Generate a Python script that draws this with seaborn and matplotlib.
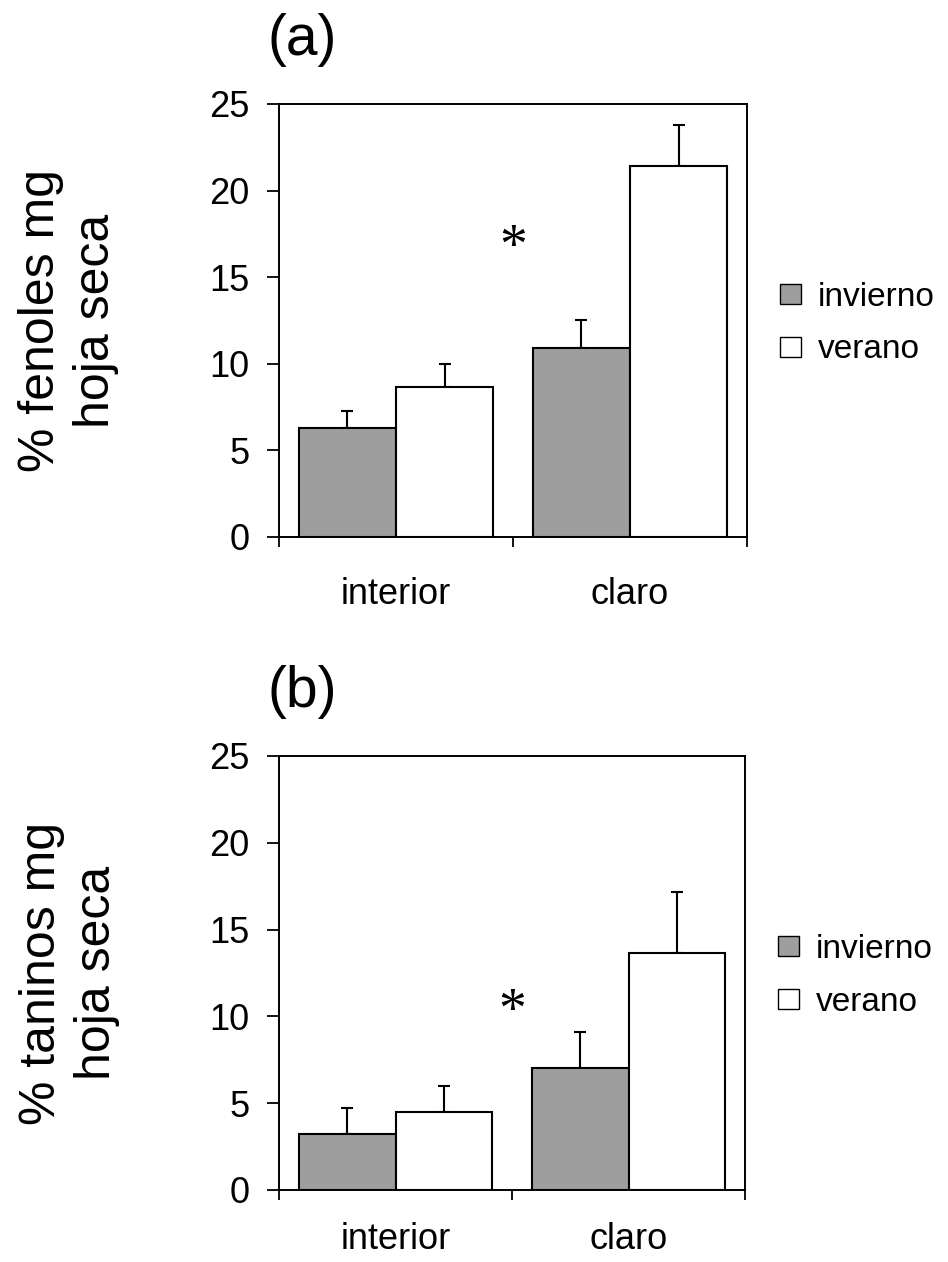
import matplotlib
matplotlib.use("Agg")
import matplotlib.pyplot as plt
from matplotlib.patches import Patch
import numpy as np
import pandas as pd
import seaborn as sns

# ---------------- data ----------------
sites = ["interior", "claro"]
seasons = ["invierno", "verano"]

fenoles_invierno = [6.3, 10.9]
fenoles_verano = [8.65, 21.4]
fenoles_err_invierno = [1.0, 1.6]
fenoles_err_verano = [1.35, 2.4]

taninos_invierno = [3.2, 7.0]
taninos_verano = [4.5, 13.65]
taninos_err_invierno = [1.5, 2.1]
taninos_err_verano = [1.5, 3.5]

panel_titles = ["(a)", "(b)"]
ylabels = ["% fenoles mg\nhoja seca", "% taninos mg\nhoja seca"]
star_y = [17.5, 11.1]
yticks = [0, 5, 10, 15, 20, 25]

season_colors = {"invierno": "#9e9e9e", "verano": "#ffffff"}

# ---------------- style ----------------
sns.set_style("white")
plt.rcParams["font.family"] = ["Liberation Sans", "DejaVu Sans"]
for k in ["text.color", "axes.labelcolor", "xtick.color", "ytick.color",
          "axes.edgecolor"]:
    plt.rcParams[k] = "black"

fig = plt.figure(figsize=(9.48, 12.62), dpi=100)
ax_a = fig.add_axes([0.2943, 0.5745, 0.4937, 0.3431])
ax_b = fig.add_axes([0.2943, 0.0571, 0.4916, 0.3439])


def make_df(inv, ver):
    return pd.DataFrame({
        "sitio": sites + sites,
        "estacion": [seasons[0]] * len(sites) + [seasons[1]] * len(sites),
        "valor": list(inv) + list(ver),
    })


panels = [
    (ax_a, make_df(fenoles_invierno, fenoles_verano),
     [fenoles_err_invierno, fenoles_err_verano], 29),
    (ax_b, make_df(taninos_invierno, taninos_verano),
     [taninos_err_invierno, taninos_err_verano], 23),
]

for i, (ax, df, errs, xpad) in enumerate(panels):
    sns.barplot(data=df, x="sitio", y="valor", hue="estacion",
                order=sites, hue_order=seasons, palette=season_colors,
                edgecolor="black", linewidth=1.5, width=0.83,
                legend=False, ax=ax, zorder=2)

    # upper-only error bars
    for container, err in zip(ax.containers, errs):
        xs = [b.get_x() + b.get_width() / 2 for b in container]
        ys = [b.get_height() for b in container]
        ax.errorbar(xs, ys, yerr=[np.zeros(len(err)), err], fmt="none",
                    ecolor="black", elinewidth=1.5, capsize=4.5,
                    capthick=1.5, zorder=1)

    ax.set_xlim(-0.5, 1.5)
    ax.set_ylim(0, 25)
    ax.set_yticks(yticks)
    ax.set_xlabel("")
    ax.set_ylabel(ylabels[i], fontsize=36, va="center", ha="center",
                  linespacing=1.25)
    ax.yaxis.set_label_coords(-0.45, 0.5)

    ax.tick_params(axis="y", which="major", direction="out", length=8.5,
                   width=1.3, color="black", labelsize=26, pad=13,
                   left=True)
    ax.tick_params(axis="x", which="major", length=0, labelsize=26,
                   pad=xpad)
    ax.set_xticks([-0.5, 0.5, 1.5], minor=True)
    ax.tick_params(axis="x", which="minor", direction="out", length=7,
                   width=1.3, color="black", bottom=True)

    for s in ax.spines.values():
        s.set_visible(True)
        s.set_color("black")
        s.set_linewidth(1.4)

    ax.text(-0.025, 1.113, panel_titles[i], transform=ax.transAxes,
            fontsize=41, ha="left", va="baseline")

    ax.text(0.5, star_y[i] - 1.7, "*", fontsize=40, ha="center",
            va="baseline", family="Liberation Serif")

    handles = [Patch(facecolor=season_colors[s], edgecolor="black",
                     linewidth=1.0, label=s) for s in seasons]
    ax.legend(handles=handles, loc="center left",
              bbox_to_anchor=(1.07, 0.493), frameon=False, fontsize=24,
              handlelength=0.65, handleheight=0.55, handletextpad=0.5,
              labelspacing=0.65, borderpad=0, borderaxespad=0)

fig.savefig("out.png", dpi=100)
